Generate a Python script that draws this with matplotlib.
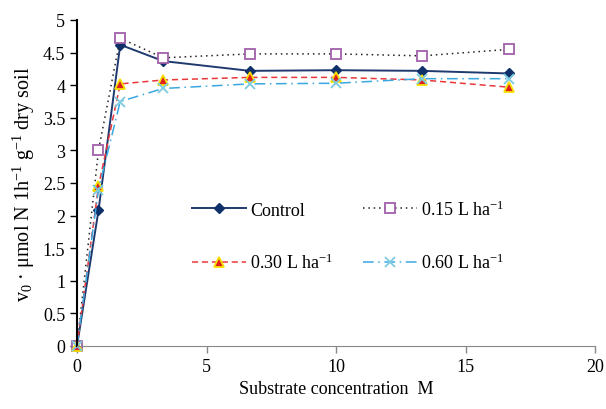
import matplotlib
matplotlib.use("Agg")
import matplotlib.pyplot as plt

x = [0, 0.83, 1.67, 3.33, 6.67, 10, 13.33, 16.67]
control = [0, 2.08, 4.62, 4.37, 4.22, 4.23, 4.22, 4.18]
l015 = [0, 3.0, 4.72, 4.42, 4.48, 4.48, 4.45, 4.55]
l030 = [0, 2.45, 4.02, 4.08, 4.12, 4.12, 4.08, 3.97]
l060 = [0, 2.4, 3.75, 3.95, 4.02, 4.03, 4.10, 4.10]

plt.rcParams['font.family'] = ['Liberation Serif', 'DejaVu Serif']
plt.rcParams['mathtext.fontset'] = 'custom'
plt.rcParams['mathtext.rm'] = 'Liberation Serif'
plt.rcParams['mathtext.it'] = 'Liberation Serif:italic'

fig = plt.figure(figsize=(6.06, 4.10), dpi=100)
ax = fig.add_axes([77/606, 1-347/410, (595-77)/606, (347-21)/410])

h1, = ax.plot(x, control, color='#1f3a6e', lw=1.4, marker='D', ms=5, mfc='#10306a', mec='#10306a', label='Control', clip_on=False)
h2, = ax.plot(x, l015, color='#222222', lw=1.1, ls=(0, (1, 2.5)), marker='s', ms=7, mfc='white', mec='#a060a8', mew=1.3, label='0.15 L ha$^{-1}$', clip_on=False)
h3, = ax.plot(x, l030, color='#e8383a', lw=1.1, ls=(0, (4, 2.5)), marker='^', ms=7, mfc='#e02020', mec='#f5e000', mew=1.3, label='0.30 L ha$^{-1}$', clip_on=False)
h4, = ax.plot(x, l060, color='#3aa8e0', lw=1.1, ls=(0, (7, 3, 1, 3)), marker='x', ms=7, mec='#7ccbe0', mew=1.3, label='0.60 L ha$^{-1}$', clip_on=False)

ax.set_xlim(0, 20)
ax.set_ylim(0, 5)
ax.set_xticks([0, 5, 10, 15, 20])
ax.set_yticks([0, 0.5, 1, 1.5, 2, 2.5, 3, 3.5, 4, 4.5, 5])
ax.set_yticklabels(['0', '0.5', '1', '1.5', '2', '2.5', '3', '3.5', '4', '4.5', '5'])
ax.tick_params(labelsize=13, direction='out', length=5, width=1)
ax.spines['top'].set_visible(False)
ax.spines['right'].set_visible(False)
ax.spines['left'].set_linewidth(1.5)
ax.spines['bottom'].set_color('#888888')
ax.tick_params(axis='x', color='#888888')

ax.set_xlabel('Substrate concentration  M', fontsize=13)
ax.set_ylabel(r'v$_0$ · μmol N 1h$^{-1}$ g$^{-1}$ dry soil', fontsize=14.5)

leg = ax.legend([h1, h3, h2, h4], [h.get_label() for h in (h1, h3, h2, h4)],
                ncol=2, loc='upper left', bbox_to_anchor=(0.19, 0.5), frameon=False,
                fontsize=13, handlelength=3, columnspacing=1.6, labelspacing=1.9, handletextpad=0.25)

fig.savefig('out.png', dpi=100)
